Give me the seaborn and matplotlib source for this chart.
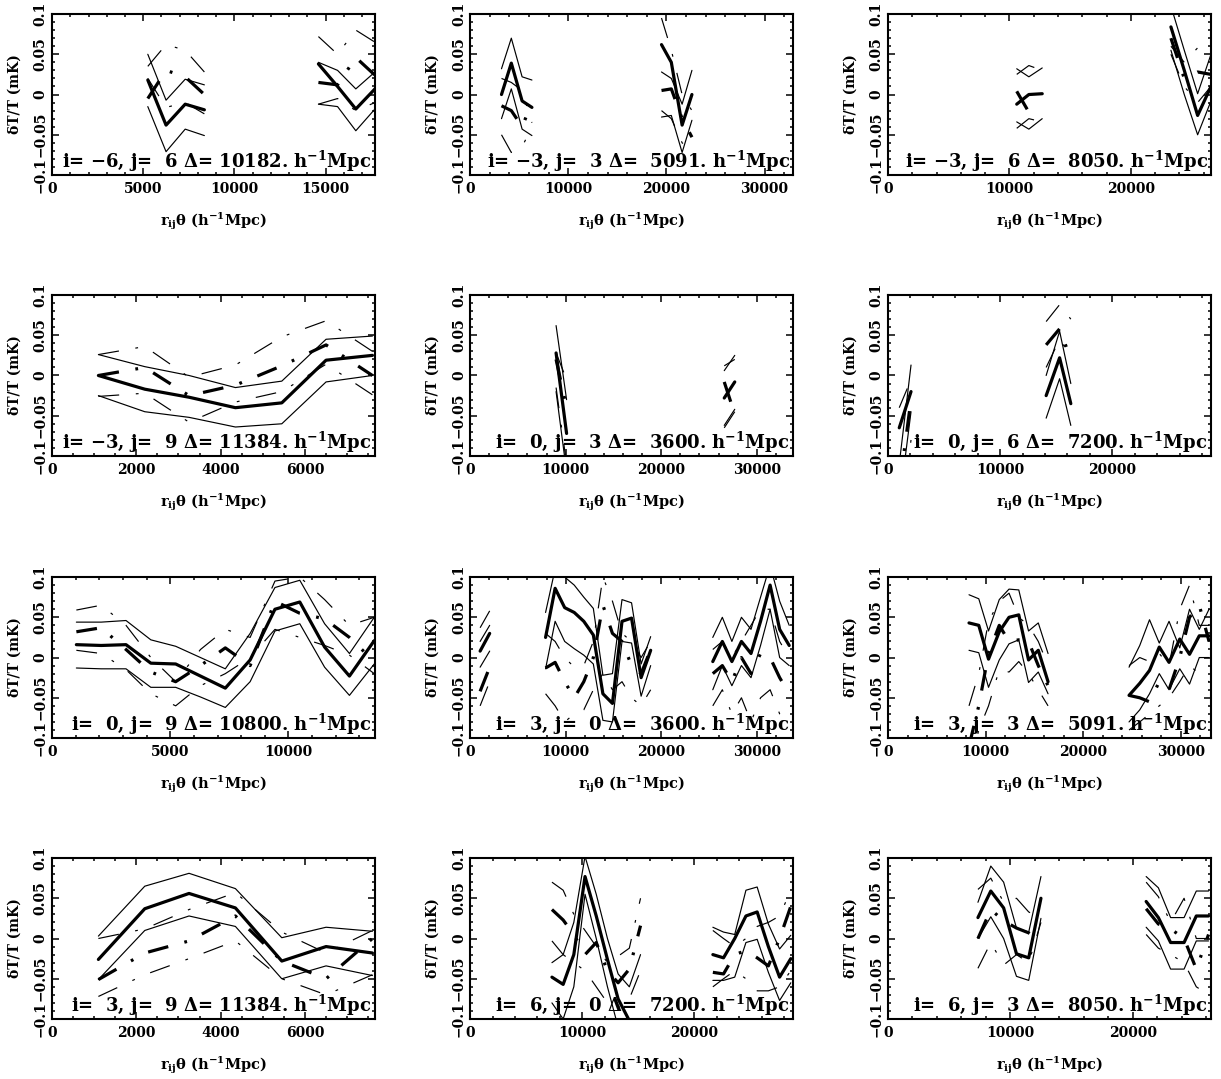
import numpy as np
import pandas as pd
import matplotlib
matplotlib.use('Agg')
import matplotlib.pyplot as plt
from matplotlib.ticker import MultipleLocator, FixedLocator
import seaborn as sns

nan = np.nan

# ========================== DATA ==========================
# m = thick solid, mu/ml = thin solid band, d = thick dash-dot, du/dl = thin dash-dot
p1_x  = [5250, 6250, 7300, 8350, nan, 14600, 15650, 16650, 17700]
p1_m  = [0.018, -0.038, -0.012, -0.019, nan, 0.038, 0.010, -0.018, 0.007]
p1_mu = [0.050, -0.007, 0.019, 0.012, nan, 0.040, 0.030, 0.007, 0.028]
p1_ml = [-0.015, -0.071, -0.043, -0.051, nan, -0.012, -0.015, -0.045, -0.018]
p1_d  = [-0.005, 0.030, 0.022, 0.000, nan, 0.015, 0.012, 0.046, 0.024]
p1_du = [0.035, 0.062, 0.055, 0.028, nan, 0.072, 0.050, 0.080, 0.065]
p1_dl = [0.020, -0.016, -0.010, -0.024, nan, -0.012, -0.005, -0.020, -0.010]

p2_x  = [3200, 4200, 5300, 6300, nan, 19500, 20500, 21600, 22600]
p2_m  = [0.000, 0.039, -0.008, -0.016, nan, 0.062, 0.040, -0.038, 0.000]
p2_mu = [0.032, 0.070, 0.022, 0.018, nan, 0.028, 0.020, -0.012, 0.030]
p2_ml = [-0.030, 0.007, -0.043, -0.051, nan, -0.028, -0.026, -0.072, -0.032]
p2_d  = [-0.014, -0.020, -0.040, -0.010, nan, 0.005, 0.007, -0.030, -0.053]
p2_du = [0.020, 0.015, 0.005, -0.035, nan, 0.095, 0.055, 0.000, -0.020]
p2_dl = [-0.050, -0.072, -0.065, -0.040, nan, -0.020, -0.030, -0.060, -0.070]

p3_x  = [10600, 11600, 12700, nan, 23300, 24400, 25500, 26600]
p3_m  = [-0.012, 0.000, 0.001, nan, 0.084, 0.030, -0.026, 0.010]
p3_mu = [0.032, 0.022, 0.033, nan, 0.110, 0.055, 0.001, 0.050]
p3_ml = [-0.034, -0.043, -0.030, nan, 0.055, 0.000, -0.050, -0.008]
p3_d  = [0.004, -0.022, nan, nan, 0.070, 0.020, 0.028, 0.025]
p3_du = [0.025, 0.036, 0.030, nan, 0.060, 0.040, 0.058, 0.060]
p3_dl = [-0.042, -0.030, -0.034, nan, 0.050, 0.010, -0.010, 0.010]

p4_x  = [1100, 2200, 3250, 4350, 5450, 6500, 7600]
p4_m  = [0.000, -0.017, -0.027, -0.040, -0.034, 0.019, 0.025]
p4_mu = [0.026, 0.011, 0.000, -0.015, -0.007, 0.045, 0.049]
p4_ml = [-0.025, -0.045, -0.052, -0.064, -0.060, -0.008, 0.000]
p4_d  = [0.000, 0.010, -0.025, -0.012, 0.012, 0.038, 0.000]
p4_du = [0.026, 0.036, -0.002, 0.013, 0.048, 0.068, 0.030]
p4_dl = [-0.026, -0.022, -0.058, -0.033, -0.020, 0.014, -0.024]

p5_x  = [9000, 10100, nan, 26600, 27700]
p5_m  = [0.028, -0.072, nan, -0.028, -0.008]
p5_mu = [0.062, -0.030, nan, 0.006, 0.025]
p5_ml = [-0.020, -0.120, nan, -0.062, -0.042]
p5_d  = [0.020, -0.040, nan, -0.008, -0.048]
p5_du = [0.028, -0.005, nan, 0.012, 0.020]
p5_dl = [-0.015, -0.110, nan, -0.065, -0.045]

p6_x  = [1000, 2050, nan, 14100, 15300, 16300]
p6_m  = [-0.065, -0.020, nan, -0.025, 0.022, -0.035]
p6_mu = [-0.110, 0.013, nan, 0.000, 0.055, -0.010]
p6_ml = [-0.160, -0.045, nan, -0.053, -0.004, -0.062]
p6_d  = [-0.140, -0.030, nan, 0.038, 0.058, 0.020]
p6_du = [-0.040, -0.005, nan, 0.067, 0.088, 0.070]
p6_dl = [-0.200, -0.080, nan, 0.010, 0.045, 0.024]

p7_x  = [1030, 2080, 3130, 4180, 5230, 6280, 7330, 8380, 9430, 10480, 11530, 12580, 13630]
p7_m  = [0.016, 0.015, 0.016, -0.007, -0.008, -0.023, -0.038, -0.003, 0.060, 0.069, 0.013, -0.023, 0.021]
p7_mu = [0.044, 0.044, 0.046, 0.022, 0.014, 0.000, -0.014, 0.030, 0.087, 0.096, 0.042, 0.005, 0.050]
p7_ml = [-0.013, -0.014, -0.014, -0.037, -0.037, -0.049, -0.062, -0.030, 0.033, 0.042, -0.012, -0.047, -0.008]
p7_d  = [0.032, 0.037, 0.010, -0.018, -0.030, -0.010, 0.012, -0.010, 0.070, 0.055, 0.048, 0.025, -0.005]
p7_du = [0.059, 0.065, 0.040, 0.000, -0.030, 0.010, 0.035, 0.025, 0.095, 0.100, 0.072, 0.040, 0.050]
p7_dl = [0.009, 0.005, -0.015, -0.045, -0.060, -0.035, -0.020, 0.000, 0.035, 0.025, 0.015, 0.003, -0.020]

p8_x  = [1050, 2050, nan, 7900, 8900, 9900, 10900, 11900, 12900, 13900, 14900, 15900, 16900, 17900, 18900,
         nan, 25400, 26400, 27400, 28400, 29400, 30400, 31400, 32400, 33400]
p8_m  = [0.008, 0.030, nan, 0.025, 0.086, 0.062, 0.056, 0.045, 0.028, -0.045, -0.057, 0.045, 0.049, -0.025, 0.009,
         nan, -0.005, 0.020, -0.005, 0.020, 0.005, 0.045, 0.090, 0.035, 0.015]
p8_mu = [0.020, 0.040, nan, 0.056, 0.110, 0.100, 0.090, 0.075, 0.061, -0.022, -0.020, 0.072, 0.068, -0.008, 0.026,
         nan, 0.025, 0.050, 0.020, 0.050, 0.035, 0.075, 0.115, 0.070, 0.040]
p8_ml = [-0.012, 0.008, nan, -0.014, 0.045, 0.020, 0.011, 0.003, -0.008, -0.078, -0.080, 0.020, 0.018, -0.048, -0.010,
         nan, -0.040, -0.010, -0.035, -0.010, -0.025, 0.015, 0.060, 0.000, -0.010]
p8_d  = [-0.042, -0.012, nan, -0.013, -0.006, -0.030, -0.050, -0.030, 0.000, 0.065, 0.030, 0.020, -0.010, -0.020, 0.010,
         nan, -0.020, -0.010, -0.030, 0.000, -0.020, 0.005, 0.000, -0.025, -0.045]
p8_du = [0.037, 0.058, nan, 0.030, 0.020, 0.000, -0.012, -0.010, 0.020, 0.100, 0.070, 0.030, 0.020, 0.000, 0.020,
         nan, 0.010, 0.020, 0.000, 0.020, 0.040, 0.060, 0.060, 0.020, 0.000]
p8_dl = [-0.060, -0.030, nan, -0.045, -0.060, -0.080, -0.070, -0.065, -0.040, -0.020, -0.040, -0.030, -0.050, -0.060, -0.040,
         nan, -0.060, -0.040, -0.070, -0.050, -0.080, -0.050, -0.040, -0.070, -0.080]

p9_x  = [8300, 9300, 10300, 11400, 12400, 13400, 14400, 15400, 16400,
         nan, 24700, 25800, 26800, 27800, 28800, 29900, 30900, 31900, 32900]
p9_m  = [0.043, 0.040, -0.002, 0.032, 0.050, 0.053, -0.003, 0.009, -0.030,
         nan, -0.047, -0.032, -0.016, 0.013, -0.006, 0.023, 0.004, 0.027, 0.027]
p9_mu = [0.078, 0.073, 0.033, 0.072, 0.085, 0.084, 0.033, 0.043, 0.005,
         nan, -0.012, 0.015, 0.047, 0.018, 0.045, 0.012, 0.060, 0.035, 0.060]
p9_ml = [0.009, 0.006, -0.037, -0.003, 0.017, 0.022, -0.031, -0.018, -0.045,
         nan, -0.080, -0.065, -0.045, -0.020, -0.040, -0.014, -0.033, 0.000, 0.000]
p9_d  = [-0.110, -0.060, 0.005, 0.040, 0.020, 0.022, 0.020, -0.010, -0.035,
         nan, -0.047, -0.050, -0.055, -0.030, -0.040, 0.000, 0.050, 0.065, 0.020]
p9_du = [-0.060, -0.020, 0.045, 0.070, 0.080, 0.050, 0.040, 0.020, -0.010,
         nan, -0.010, 0.000, -0.005, 0.005, -0.010, 0.060, 0.090, 0.040, 0.040]
p9_dl = [-0.140, -0.090, -0.060, -0.015, -0.018, -0.005, -0.020, -0.040, -0.060,
         nan, -0.090, -0.080, -0.070, -0.060, -0.050, -0.030, -0.010, -0.020, -0.030]

p10_x  = [1100, 2200, 3250, 4350, 5450, 6500, 7600]
p10_m  = [-0.026, 0.037, 0.056, 0.038, -0.028, -0.010, -0.018]
p10_mu = [0.003, 0.065, 0.081, 0.062, 0.001, 0.014, 0.009]
p10_ml = [-0.051, 0.010, 0.028, 0.015, -0.050, -0.034, -0.046]
p10_d  = [-0.051, -0.018, -0.003, 0.028, -0.028, -0.050, 0.000]
p10_du = [0.000, 0.012, 0.036, 0.057, 0.008, -0.018, 0.010]
p10_dl = [-0.072, -0.045, -0.025, -0.003, -0.050, -0.070, -0.045]

p11_x  = [7300, 8300, 9250, 10250, 11250, 12250, 13200, 14200, 15200,
          nan, 21650, 22600, 23600, 24600, 25600, 26600, 27600, 28600]
p11_m  = [-0.048, -0.057, -0.020, 0.077, 0.028, -0.026, -0.075, -0.102, -0.130,
          nan, -0.020, -0.024, 0.000, 0.028, 0.033, -0.010, -0.048, -0.025]
p11_mu = [-0.030, -0.020, 0.020, 0.102, 0.055, 0.000, -0.044, -0.060, -0.020,
          nan, 0.014, 0.008, 0.005, 0.060, 0.064, 0.018, -0.013, 0.004]
p11_ml = [-0.080, -0.100, -0.060, 0.055, 0.000, -0.060, -0.110, -0.140, -0.140,
          nan, -0.052, -0.052, -0.048, -0.005, -0.001, -0.042, -0.077, -0.055]
p11_d  = [0.036, 0.023, 0.005, -0.020, -0.005, -0.040, -0.055, -0.038, 0.016,
          nan, -0.042, -0.044, -0.020, -0.015, -0.024, -0.034, 0.000, 0.040]
p11_du = [0.070, 0.060, 0.030, 0.010, -0.010, -0.030, -0.022, -0.012, 0.050,
          nan, 0.010, 0.000, -0.010, 0.000, 0.015, 0.020, 0.028, 0.060]
p11_dl = [-0.003, -0.020, -0.030, -0.040, -0.060, -0.080, -0.085, -0.075, -0.040,
          nan, -0.060, -0.050, -0.040, -0.050, -0.065, -0.065, -0.060, -0.040]

p12_x  = [7350, 8400, 9450, 10500, 11500, 12500, nan, 21100, 22100, 23100, 24200, 25200, 26200]
p12_m  = [0.026, 0.059, 0.038, -0.019, -0.024, 0.050, nan, 0.046, 0.026, -0.005, -0.005, 0.028, 0.028]
p12_mu = [0.045, 0.090, 0.070, 0.013, 0.008, 0.077, nan, 0.077, 0.063, 0.026, 0.026, 0.059, 0.059]
p12_ml = [0.000, 0.027, 0.000, -0.047, -0.052, 0.025, nan, 0.014, -0.003, -0.038, -0.038, -0.003, -0.003]
p12_d  = [0.000, 0.036, 0.022, 0.013, 0.007, -0.003, nan, 0.037, 0.018, 0.012, 0.000, -0.038, 0.005]
p12_du = [0.061, 0.075, 0.045, 0.050, 0.033, 0.025, nan, 0.070, 0.052, 0.020, 0.050, 0.000, 0.000]
p12_dl = [-0.037, -0.005, -0.033, -0.020, -0.030, 0.020, nan, 0.005, -0.012, -0.020, -0.030, -0.060, -0.070]

x_max = [17700, 32900, 26600, 7660, 33800, 28800, 13660, 33800, 33100, 7660, 28800, 26400]
x_major = [5000, 10000, 10000, 2000, 10000, 10000, 5000, 10000, 10000, 2000, 10000, 10000]
x_minor = [1000, 2000, 2000, 500, 2000, 2000, 1000, 2000, 2000, 500, 2000, 2000]

pair_i = ['\u22126', '\u22123', '\u22123', '\u22123', ' 0', ' 0', ' 0', ' 3', ' 3', ' 3', ' 6', ' 6']
pair_j = ['6', '3', '6', '9', '3', '6', '9', '0', '3', '9', '0', '3']
delta = ['10182.', ' 5091.', ' 8050.', '11384.', ' 3600.', ' 7200.', '10800.', ' 3600.', ' 5091.', '11384.', ' 7200.', ' 8050.']

y_ticks = [-0.1, -0.05, 0, 0.05, 0.1]
y_tick_labels = ['\u22120.1', '\u22120.05', '0', '0.05', '0.1']

# ========================== STYLE ==========================
sns.set_style('ticks')
plt.rcParams['font.family'] = ['DejaVu Serif']
plt.rcParams['font.weight'] = 'bold'
plt.rcParams['mathtext.fontset'] = 'dejavuserif'
plt.rcParams['mathtext.default'] = 'bf'
plt.rcParams['lines.scale_dashes'] = False
for key in ['text.color', 'axes.labelcolor', 'xtick.color', 'ytick.color', 'axes.edgecolor']:
    plt.rcParams[key] = 'black'

dashdot = (0, (15, 12, 2, 12))
line_styles = [
    (2.3, '-'),       # m
    (0.85, '-'),      # mu
    (0.85, '-'),      # ml
    (2.3, dashdot),   # d
    (0.85, dashdot),  # du
    (0.85, dashdot),  # dl
]

panels = [
    (p1_x, [p1_m, p1_mu, p1_ml, p1_d, p1_du, p1_dl]),
    (p2_x, [p2_m, p2_mu, p2_ml, p2_d, p2_du, p2_dl]),
    (p3_x, [p3_m, p3_mu, p3_ml, p3_d, p3_du, p3_dl]),
    (p4_x, [p4_m, p4_mu, p4_ml, p4_d, p4_du, p4_dl]),
    (p5_x, [p5_m, p5_mu, p5_ml, p5_d, p5_du, p5_dl]),
    (p6_x, [p6_m, p6_mu, p6_ml, p6_d, p6_du, p6_dl]),
    (p7_x, [p7_m, p7_mu, p7_ml, p7_d, p7_du, p7_dl]),
    (p8_x, [p8_m, p8_mu, p8_ml, p8_d, p8_du, p8_dl]),
    (p9_x, [p9_m, p9_mu, p9_ml, p9_d, p9_du, p9_dl]),
    (p10_x, [p10_m, p10_mu, p10_ml, p10_d, p10_du, p10_dl]),
    (p11_x, [p11_m, p11_mu, p11_ml, p11_d, p11_du, p11_dl]),
    (p12_x, [p12_m, p12_mu, p12_ml, p12_d, p12_du, p12_dl]),
]


# split a series into segments at the NaN gaps
def to_long(x, y):
    rows = []
    seg = 0
    for xi, yi in zip(x, y):
        if np.isnan(xi) or np.isnan(yi):
            seg += 1
            continue
        rows.append((xi, yi, seg))
    return pd.DataFrame(rows, columns=['x', 'y', 'seg'])


# ========================== PLOT ==========================
fig = plt.figure(figsize=(12.21, 10.79), dpi=100)

col_left = [0.0426, 0.385, 0.7273]
row_bottom = [0.8378, 0.5774, 0.3160, 0.0556]
ax_w, ax_h = 0.2645, 0.1492

for k, (px, series) in enumerate(panels):
    r, c = divmod(k, 3)
    ax = fig.add_axes([col_left[c], row_bottom[r], ax_w, ax_h])

    for ys, (lw, ls) in zip(series, line_styles):
        df = to_long(px, ys)
        sns.lineplot(data=df, x='x', y='y', units='seg', estimator=None,
                     color='black', lw=lw, linestyle=ls, ax=ax)

    ax.set_xlim(0, x_max[k])
    ax.set_ylim(-0.1, 0.1)
    ax.xaxis.set_major_locator(MultipleLocator(x_major[k]))
    ax.xaxis.set_minor_locator(MultipleLocator(x_minor[k]))
    ax.yaxis.set_major_locator(FixedLocator(y_ticks))
    ax.yaxis.set_minor_locator(MultipleLocator(0.01))
    ax.set_yticklabels(y_tick_labels)

    ax.tick_params(which='both', direction='in', top=True, right=True,
                   width=1.1, labelsize=10)
    ax.tick_params(which='major', length=5)
    ax.tick_params(which='minor', length=2.5)
    ax.tick_params(axis='y', labelrotation=90, pad=3)
    ax.tick_params(axis='x', pad=5)
    for lab in ax.get_yticklabels():
        lab.set_va('center')
    for sp in ax.spines.values():
        sp.set_linewidth(1.5)

    ax.set_ylabel('\u03b4T/T (mK)', fontsize=10, fontweight='bold')
    ax.yaxis.set_label_coords(-0.093, 0.5)
    ax.set_xlabel(r'$r_{ij}\theta$ (h$^{-1}$Mpc)', fontsize=10.5, fontweight='bold')
    ax.xaxis.set_label_coords(0.5, -0.22)

    txt = 'i= %s, j=  %s \u0394= %s h$^{-1}$Mpc' % (pair_i[k], pair_j[k], delta[k])
    ax.text(0.99, 0.045, txt, transform=ax.transAxes, ha='right', va='baseline',
            fontsize=13, fontweight='bold', zorder=1)

plt.savefig('out.png', dpi=100)
